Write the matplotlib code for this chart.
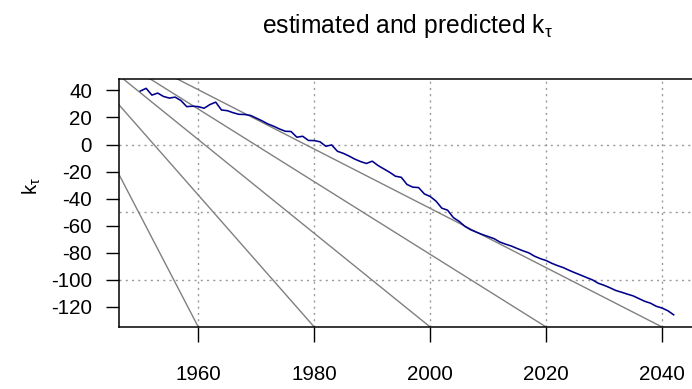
import matplotlib
matplotlib.use("Agg")
import matplotlib.pyplot as plt

plt.rcParams['font.family'] = ['Liberation Sans', 'DejaVu Sans']
plt.rcParams['mathtext.fontset'] = 'custom'
plt.rcParams['mathtext.rm'] = 'Liberation Sans'
plt.rcParams['mathtext.it'] = 'Liberation Sans'

# estimated k_t (1950-2008) followed by the projected path (2009-2042)
years = list(range(1950, 2043))
kt = [39.5, 41.5, 36.5, 38.0, 35.5, 34.3, 35.0, 32.5, 28.0, 28.3,
      28.0, 26.8, 29.5, 31.3, 25.5, 25.0, 23.5, 22.3, 22.2, 21.5,
      19.5, 17.5, 15.2, 13.5, 11.5, 9.8, 9.6, 5.4, 6.1, 3.0,
      2.9, 2.0, -1.3, -0.3, -5.0, -6.5, -8.5, -10.8, -12.6, -14.0,
      -12.3, -15.5, -18.0, -20.5, -23.4, -24.2, -29.5, -31.5, -31.8, -36.5,
      -38.4, -41.8, -47.0, -48.5, -54.0, -56.8, -60.5, -63.0, -64.8, -66.5,
      -68.0, -69.5, -72.0, -73.6, -75.0, -76.8, -78.5, -80.0, -82.5, -84.3,
      -85.7, -87.8, -89.5, -91.0, -93.0, -94.8, -96.5, -98.3, -100.0, -102.5,
      -104.0, -105.8, -107.8, -109.1, -110.5, -111.8, -113.8, -115.8, -117.2, -119.5,
      -120.8, -122.8, -125.8]

# fan of reference lines: common start point, ends on the decade marks
fan_start = (1931.0, 104.0)
fan_end_years = [1960, 1980, 2000, 2020, 2040]
fan_end_value = -134.8

xticks = [1960, 1980, 2000, 2020, 2040]
yticks = [40, 20, 0, -20, -40, -60, -80, -100, -120]
grid_x = [1960, 1980, 2000, 2020, 2040]
grid_y = [0, -50, -100]

fig = plt.figure(figsize=(6.92, 3.89), dpi=100)
ax = fig.add_axes([119 / 692, 62 / 389, 576 / 692, 248 / 389])

for gx in grid_x:
    ax.axvline(gx, color='#9a9a9a', lw=1.0, ls=(0, (1.5, 3.0)), zorder=1)
for gy in grid_y:
    ax.axhline(gy, color='#9a9a9a', lw=1.0, ls=(0, (1.5, 3.0)), zorder=1)

for ey in fan_end_years:
    ax.plot([fan_start[0], ey], [fan_start[1], fan_end_value],
            color='#808080', lw=1.0, zorder=2)

ax.plot(years, kt, color='#00008B', lw=1.15, zorder=3)

ax.set_xlim(1946.32, 2045.68)
ax.set_ylim(-134.8, 48.4)

ax.set_xticks(xticks)
ax.set_xticklabels([str(v) for v in xticks])
ax.set_yticks(yticks)
ax.set_yticklabels([str(v) for v in yticks])

ax.tick_params(axis='x', length=11, width=1.0, pad=16, labelsize=14.8)
ax.tick_params(axis='y', length=9.4, width=1.0, pad=10, labelsize=14.8)

for side in ['left', 'top', 'bottom']:
    ax.spines[side].set_linewidth(1.1)
ax.spines['right'].set_visible(False)

fig.text(32 / 692, 203 / 389, r'k$_{\mathrm{τ}}$', rotation=90,
         ha='center', va='center', fontsize=14.8)
fig.text(407 / 692, 1 - 33 / 389, r'estimated and predicted k$_{\mathrm{τ}}$',
         ha='center', va='baseline', fontsize=17.7)

fig.savefig('out.png', dpi=100)
